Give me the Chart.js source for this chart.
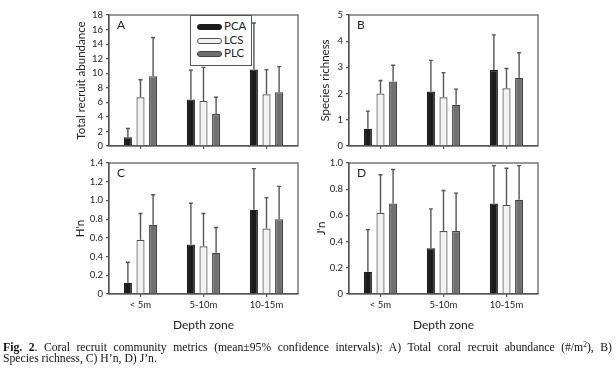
<!DOCTYPE html>
<html>
<head>
<meta charset="utf-8">
<title>Coral recruit community metrics</title>
<script src="https://cdn.jsdelivr.net/npm/chart.js"></script>
<style>
    body { margin: 0; background: #fff; }
    #fig { position: relative; width: 616px; height: 374px; overflow: hidden; }
    #fig canvas { position: absolute; left: 0; top: 0; }
    .legend {
        position: absolute; left: 190px; top: 15px; width: 62px; height: 51px;
        border: 1.2px solid #555; background: #fff; box-sizing: border-box;
        font: 11.5px Lato; color: #222;
    }
    .legend .row { position: absolute; left: 6px; height: 12px; line-height: 12px; }
    .legend .sw {
        position: absolute; left: 0; top: 4px; width: 23px; height: 4px;
        border: 1.2px solid #444; border-radius: 3px;
    }
    .legend .txt { position: absolute; left: 27px; top: 0; }
    .cap { position: absolute; left: 3px; font: 11.7px "Liberation Serif"; color: #111; line-height: 10.5px; white-space: nowrap; }
    .cap.l1 { top: 343px; width: 609px; white-space: normal; text-align: justify; text-align-last: justify; }
    .cap.l2 { top: 353.5px; }
    .cap sup { font-size: 7.5px; line-height: 0; vertical-align: 4px; }
</style>
</head>
<body>
<div id="fig">
    <canvas id="chartA" width="616" height="374"></canvas>
    <canvas id="chartB" width="616" height="374"></canvas>
    <canvas id="chartC" width="616" height="374"></canvas>
    <canvas id="chartD" width="616" height="374"></canvas>
    <div class="legend" id="legend"></div>
    <div class="cap l1"><b>Fig. 2</b>. Coral recruit community metrics (mean±95% confidence intervals): A) Total coral recruit abundance (#/m<sup>2</sup>), B)</div>
    <div class="cap l2">Species richness, C) H’n, D) J’n.</div>
</div>

<script>
    // categories and series
    const depthZones = ['< 5m', '5-10m', '10-15m'];
    const seriesNames = ['PCA', 'LCS', 'PLC'];

    // A) total recruit abundance: means and upper 95% CI
    const abundPCA = [1.2, 6.4, 10.5];
    const abundLCS = [6.7, 6.2, 7.1];
    const abundPLC = [9.6, 4.4, 7.4];
    const abundPCAup = [2.4, 10.4, 16.9];
    const abundLCSup = [9.1, 10.8, 10.5];
    const abundPLCup = [14.9, 6.7, 10.9];

    // B) species richness
    const richPCA = [0.66, 2.08, 2.9];
    const richLCS = [2.0, 1.86, 2.2];
    const richPLC = [2.46, 1.57, 2.6];
    const richPCAup = [1.33, 3.27, 4.24];
    const richLCSup = [2.5, 2.8, 2.96];
    const richPLCup = [3.08, 2.17, 3.56];

    // C) H'n
    const hPCA = [0.12, 0.53, 0.90];
    const hLCS = [0.58, 0.51, 0.70];
    const hPLC = [0.74, 0.44, 0.80];
    const hPCAup = [0.34, 0.97, 1.34];
    const hLCSup = [0.86, 0.86, 1.03];
    const hPLCup = [1.06, 0.71, 1.15];

    // D) J'n
    const jPCA = [0.17, 0.35, 0.69];
    const jLCS = [0.62, 0.48, 0.68];
    const jPLC = [0.69, 0.48, 0.72];
    const jPCAup = [0.49, 0.65, 0.98];
    const jLCSup = [0.91, 0.79, 0.96];
    const jPLCup = [0.95, 0.77, 0.98];

    // y tick labels
    const ticksA = ['0', '2', '4', '6', '8', '10', '12', '14', '16', '18'];
    const ticksB = ['0', '1', '2', '3', '4', '5'];
    const ticksC = ['0', '0.2', '0.4', '0.6', '0.8', '1.0', '1.2', '1.4'];
    const ticksD = ['0', '0.2', '0.4', '0.6', '0.8', '1.0'];

    const barFill = ['#1c1c1c', '#f2f2f2', '#707070'];
    const barEdge = ['#1c1c1c', '#505050', '#454545'];
    const axisColor = '#555';

    Chart.defaults.font.family = 'Lato';
    Chart.defaults.color = '#222';

    // box around the plot area + panel letter
    const framePlugin = {
        id: 'frame',
        afterDraw(chart) {
            const a = chart.chartArea, ctx = chart.ctx;
            ctx.save();
            ctx.strokeStyle = axisColor;
            ctx.lineWidth = 1.2;
            ctx.strokeRect(a.left, a.top, a.right - a.left, a.bottom - a.top);
            ctx.fillStyle = '#222';
            ctx.font = '12px Lato';
            ctx.textBaseline = 'middle';
            ctx.fillText(chart.options.plugins.frame.letter, a.left + 8, a.top + 10);
            ctx.restore();
        }
    };

    // upward error bars (upper 95% CI)
    const errorBarPlugin = {
        id: 'errorBars',
        afterDatasetsDraw(chart) {
            const ctx = chart.ctx, y = chart.scales.y;
            ctx.save();
            ctx.strokeStyle = '#555';
            ctx.lineWidth = 1.4;
            chart.data.datasets.forEach((ds, i) => {
                chart.getDatasetMeta(i).data.forEach((bar, j) => {
                    const top = y.getPixelForValue(ds.upper[j]);
                    ctx.beginPath();
                    ctx.moveTo(bar.x, bar.y);
                    ctx.lineTo(bar.x, top);
                    ctx.moveTo(bar.x - 2, top);
                    ctx.lineTo(bar.x + 2, top);
                    ctx.stroke();
                });
            });
            ctx.restore();
        }
    };

    function buildPanel(id, p) {
        new Chart(document.getElementById(id), {
            type: 'bar',
            data: {
                labels: depthZones,
                datasets: seriesNames.map((name, k) => ({
                    label: name,
                    data: p.means[k],
                    upper: p.uppers[k],
                    backgroundColor: barFill[k],
                    borderColor: barEdge[k],
                    borderWidth: 1.2,
                    categoryPercentage: 0.6,
                    barPercentage: 0.64
                }))
            },
            options: {
                responsive: false,
                animation: false,
                layout: { padding: p.pad },
                plugins: {
                    legend: { display: false },
                    tooltip: { enabled: false },
                    frame: { letter: p.letter }
                },
                scales: {
                    x: {
                        grid: { drawOnChartArea: false, offset: false, tickLength: 3, color: axisColor, lineWidth: 1.2 },
                        border: { color: axisColor, width: 1.2 },
                        ticks: { display: p.showX, font: { size: 9.5 }, padding: 2, maxRotation: 0 },
                        title: { display: p.showX, text: 'Depth zone', font: { size: 12 }, padding: 0, color: '#222' },
                        afterFit: s => { s.height = p.xH; }
                    },
                    y: {
                        min: 0, max: p.max,
                        ticks: {
                            stepSize: p.step, autoSkip: false, font: { size: 9.5 }, padding: 3,
                            callback: (v, i) => p.tickLabels[i]
                        },
                        grid: { drawOnChartArea: false, tickLength: 3, color: axisColor, lineWidth: 1.2 },
                        border: { color: axisColor, width: 1.2 },
                        title: { display: true, text: p.yTitle, font: { size: 11.5 }, padding: 0, color: '#222' },
                        afterFit: s => { s.width = p.yW; }
                    }
                }
            },
            plugins: [errorBarPlugin, framePlugin]
        });
    }

    window.onload = () => {
        buildPanel('chartA', {
            letter: 'A', yTitle: 'Total recruit abundance', max: 18, step: 2, tickLabels: ticksA,
            means: [abundPCA, abundLCS, abundPLC], uppers: [abundPCAup, abundLCSup, abundPLCup],
            pad: { left: 74.6, top: 15, right: 318, bottom: 218 }, yW: 34.4, xH: 10, showX: false
        });
        buildPanel('chartB', {
            letter: 'B', yTitle: 'Species richness', max: 5, step: 1, tickLabels: ticksB,
            means: [richPCA, richLCS, richPLC], uppers: [richPCAup, richLCSup, richPLCup],
            pad: { left: 317.9, top: 15, right: 78, bottom: 218 }, yW: 31.1, xH: 10, showX: false
        });
        buildPanel('chartC', {
            letter: 'C', yTitle: "H'n", max: 1.4, step: 0.2, tickLabels: ticksC,
            means: [hPCA, hLCS, hPLC], uppers: [hPCAup, hLCSup, hPLCup],
            pad: { left: 73.6, top: 163, right: 318, bottom: 41.3 }, yW: 35.4, xH: 38.7, showX: true
        });
        buildPanel('chartD', {
            letter: 'D', yTitle: "J'n", max: 1.0, step: 0.2, tickLabels: ticksD,
            means: [jPCA, jLCS, jPLC], uppers: [jPCAup, jLCSup, jPLCup],
            pad: { left: 314.6, top: 163, right: 78, bottom: 41.3 }, yW: 34.4, xH: 38.7, showX: true
        });

        // legend (panel A)
        const legend = document.getElementById('legend');
        seriesNames.forEach((name, k) => {
            const row = document.createElement('div');
            row.className = 'row';
            row.style.top = (4 + k * 13.5) + 'px';
            row.innerHTML = '<span class="sw" style="background:' + barFill[k] + ';border-color:' + barEdge[k] + '"></span>' +
                '<span class="txt">' + name + '</span>';
            legend.appendChild(row);
        });
    };
</script>
</body>
</html>
